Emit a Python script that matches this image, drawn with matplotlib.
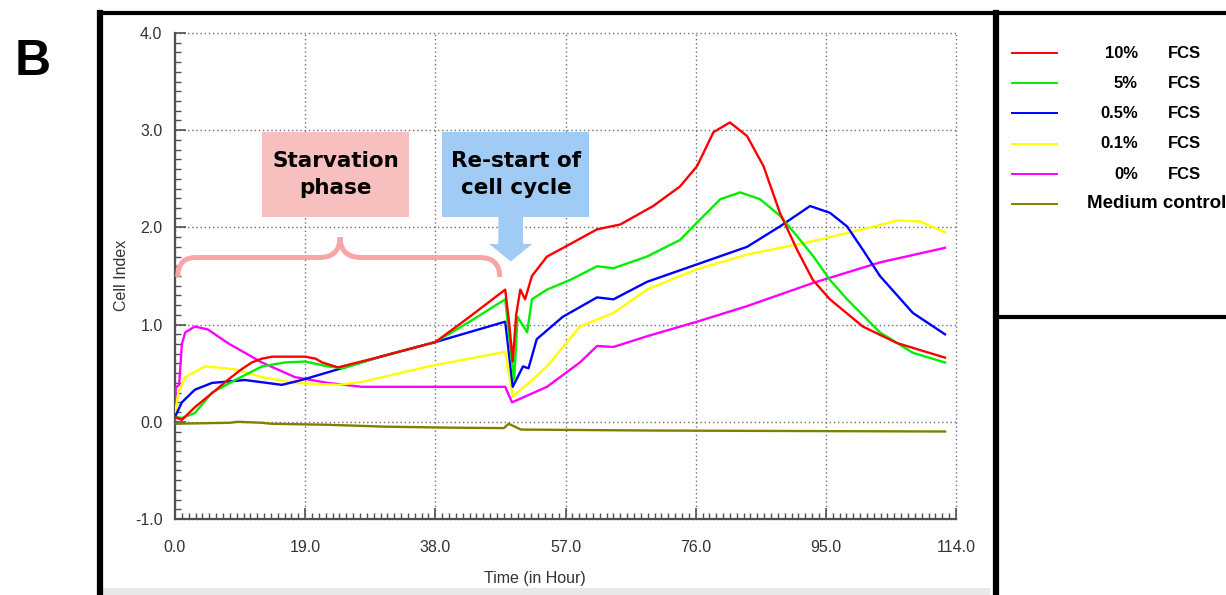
import numpy as np
import matplotlib
matplotlib.use('Agg')
import matplotlib.pyplot as plt
from matplotlib.lines import Line2D
from matplotlib.patches import Rectangle, FancyArrow, PathPatch
from matplotlib.path import Path

# Datos (tiempo en horas, indice celular)
t_10 = [0, 1, 2.9, 5.5, 7.7, 9.5, 11.2, 12.7, 14.2, 19, 20.5, 21.5, 23.8, 30, 38, 43, 48.2,
        48.8, 49.3, 49.8, 50.4, 51.1, 52.1, 54.3, 57.2, 61.6, 65, 69.8, 73.7, 76.2, 78.6, 81,
        83.5, 85.9, 88.3, 90.8, 93.1, 95.6, 100.4, 105.4, 112.4]
ci_10 = [0.05, 0.02, 0.15, 0.30, 0.43, 0.53, 0.61, 0.65, 0.67, 0.67, 0.65, 0.61, 0.56, 0.67,
         0.82, 1.08, 1.36, 1.0, 0.62, 1.1, 1.36, 1.26, 1.50, 1.70, 1.81, 1.98, 2.03, 2.22, 2.42,
         2.63, 2.98, 3.08, 2.94, 2.63, 2.15, 1.77, 1.46, 1.26, 0.98, 0.81, 0.66]

t_5 = [0, 1, 2.9, 5.4, 8.8, 12.7, 16, 19, 22.3, 24.5, 30, 38, 43, 48.2, 48.9, 49.5, 50.0,
       51.4, 52.1, 54.3, 57.7, 61.6, 64, 68.9, 73.7, 76.2, 79.6, 82.5, 85.4, 88.3, 90.8, 93.2,
       95.6, 98.1, 102.9, 107.7, 112.4]
ci_5 = [0.05, 0.04, 0.09, 0.30, 0.43, 0.57, 0.61, 0.62, 0.57, 0.55, 0.67, 0.82, 1.03, 1.26,
        0.8, 0.43, 1.08, 0.92, 1.26, 1.36, 1.46, 1.60, 1.58, 1.70, 1.87, 2.05, 2.29, 2.36, 2.29,
        2.12, 1.91, 1.70, 1.46, 1.26, 0.92, 0.71, 0.61]

t_05 = [0, 1, 2.9, 5.4, 10.2, 15.6, 18.5, 23.8, 30, 38, 48.2, 49.3, 50.8, 51.6, 52.8, 56.6,
        61.6, 64, 68.9, 76.2, 83.5, 88.3, 92.7, 95.6, 98.1, 100.4, 102.9, 107.7, 112.4]
ci_05 = [0.05, 0.2, 0.33, 0.40, 0.43, 0.38, 0.43, 0.54, 0.67, 0.82, 1.03, 0.36, 0.57, 0.55,
         0.85, 1.08, 1.28, 1.26, 1.44, 1.62, 1.80, 2.01, 2.22, 2.15, 2.01, 1.77, 1.50, 1.12, 0.90]

t_01 = [0, 0.5, 1.5, 4.4, 8.8, 12.7, 17.5, 23.8, 27.3, 37, 48.2, 49.3, 52, 54.3, 59.1, 64,
        68.9, 76.2, 83.5, 93.2, 100.4, 105.4, 108.8, 112.4]
ci_01 = [0.08, 0.3, 0.46, 0.57, 0.54, 0.46, 0.40, 0.38, 0.41, 0.57, 0.72, 0.26, 0.42, 0.57,
         0.98, 1.12, 1.36, 1.57, 1.72, 1.86, 1.98, 2.07, 2.06, 1.95]

t_0 = [0, 0.1, 0.6, 1.0, 1.5, 2.9, 4.8, 7.7, 12.7, 17.5, 22.3, 27.3, 48.2, 49.2, 54.3, 59.1,
       61.6, 64, 68.9, 76.2, 83.5, 93.2, 102.9, 112.4]
ci_0 = [0.02, 0.35, 0.38, 0.8, 0.92, 0.98, 0.95, 0.81, 0.61, 0.46, 0.40, 0.36, 0.36, 0.20,
        0.36, 0.61, 0.78, 0.77, 0.88, 1.03, 1.19, 1.43, 1.64, 1.79]

t_med = [0, 8, 9.2, 12.7, 14, 22, 30.7, 40, 48, 48.7, 50.5, 70, 112.4]
ci_med = [-0.02, -0.01, 0.0, -0.01, -0.02, -0.03, -0.05, -0.06, -0.065, -0.02, -0.08, -0.09, -0.10]

etiquetas_pct = ['10%', '5%', '0.5%', '0.1%', '0%']
colores = ['#ff0000', '#00ee00', '#0000ff', '#ffff00', '#ff00ff', '#808000']

xticks = [0, 19, 38, 57, 76, 95, 114]
yticks = [-1, 0, 1, 2, 3, 4]

series = [(t_10, ci_10), (t_5, ci_5), (t_05, ci_05), (t_01, ci_01), (t_0, ci_0), (t_med, ci_med)]

W, H = 1226, 595
fig = plt.figure(figsize=(W / 100, H / 100), dpi=100)

def fx(x):
    return x / W

def fy(y):
    return 1 - y / H

ax = fig.add_axes([fx(175), fy(519), fx(956) - fx(175), fy(33) - fy(519)])

# Orden de dibujo: control primero
for (t, ci), c in reversed(list(zip(series, colores))):
    ax.plot(t, ci, color=c, lw=1.7, zorder=3)

ax.set_xlim(0, 114)
ax.set_ylim(-1, 4)
ax.set_xticks(xticks)
ax.set_xticklabels(['%.1f' % v for v in xticks])
ax.set_yticks(yticks)
ax.set_yticklabels(['%.1f' % v for v in yticks])
ax.set_xticks(np.arange(0, 115, 1), minor=True)
ax.set_yticks(np.arange(-1, 4.01, 0.1), minor=True)
ax.grid(True, which='major', ls=(0, (1, 2)), color='#707070', lw=1.0)
for gl in ax.get_xgridlines() + ax.get_ygridlines():
    gl.set_clip_on(False)
for s in ['top', 'right']:
    ax.spines[s].set_visible(False)
for s in ['left', 'bottom']:
    ax.spines[s].set_color('#505050')
    ax.spines[s].set_linewidth(1.6)
ax.tick_params(which='major', direction='in', length=8, width=1.2, color='#505050',
               labelsize=11.5, labelcolor='#333333')
ax.tick_params(axis='y', which='major', pad=9)
ax.tick_params(axis='x', which='major', pad=15)
ax.tick_params(which='minor', direction='in', length=4, width=1.0, color='#505050')
for lbl in ax.get_xticklabels() + ax.get_yticklabels():
    lbl.set_family('Liberation Sans')

ax.set_xlabel('Time (in Hour)', fontsize=11.5, color='#333333', family='Liberation Sans')
ax.xaxis.set_label_coords(0.461, -0.108)
ax.set_ylabel('Cell Index', fontsize=11.5, color='#333333', family='Liberation Sans')
ax.yaxis.set_label_coords(-0.059, 0.502)

# Recuadros de anotacion
ax.add_patch(Rectangle((12.7, 2.11), 21.5, 0.87, facecolor='#f8bfbf', edgecolor='none', zorder=4))
ax.text(23.45, 2.545, 'Starvation\nphase', ha='center', va='center', fontsize=15.5,
        fontweight='bold', family='DejaVu Sans', linespacing=1.45, zorder=5)
ax.add_patch(Rectangle((39.0, 2.11), 21.4, 0.87, facecolor='#9fcbf5', edgecolor='none', zorder=4))
ax.text(49.8, 2.545, 'Re-start of\ncell cycle', ha='center', va='center', fontsize=15.5,
        fontweight='bold', family='DejaVu Sans', linespacing=1.45, zorder=5)
ax.add_patch(FancyArrow(49.0, 2.12, 0, -0.47, width=3.6, head_width=6.3, head_length=0.18,
                        length_includes_head=True, facecolor='#9fcbf5', edgecolor='none', zorder=4))

# Llave de la fase de ayuno
yb, yh, yp = 1.49, 1.69, 1.90
xm = 24.1
verts = [(0.4, yb), (0.4, yh), (3, yh), (21, yh), (xm, yh), (xm, yp),
         (xm, yh), (27.2, yh), (44.5, yh), (47.4, yh), (47.4, yb)]
codes = [Path.MOVETO, Path.CURVE3, Path.CURVE3, Path.LINETO, Path.CURVE3, Path.CURVE3,
         Path.CURVE3, Path.CURVE3, Path.LINETO, Path.CURVE3, Path.CURVE3]
ax.add_patch(PathPatch(Path(verts, codes), facecolor='none', edgecolor='#f6a6a6', lw=3.6,
                       capstyle='butt', zorder=4))

# Marco exterior y caja de leyenda
def linea(x0, y0, x1, y1, lw, color='black'):
    fig.add_artist(Line2D([fx(x0), fx(x1)], [fy(y0), fy(y1)], color=color, lw=lw,
                          solid_capstyle='projecting'))

linea(100, 13, 100, 600, 4.5)
linea(100, 13, 1230, 13, 3.0)
linea(996, 13, 996, 600, 4.5)
linea(996, 317, 1230, 317, 3.0)
fig.add_artist(Rectangle((fx(103), fy(595)), fx(990) - fx(103), fy(588) - fy(595),
                         facecolor='#e8e8e8', edgecolor='none', transform=fig.transFigure))

fig.text(fx(15), fy(62), 'B', fontsize=36, fontweight='bold', family='Liberation Sans',
         va='center', ha='left')

# Leyenda
ys = [53, 83, 113, 144, 174, 204]
fuente_ley = ['Liberation Sans', 'DejaVu Sans']
for i, c in enumerate(colores):
    linea(1012, ys[i], 1057, ys[i], 1.4, color=c)
    if i < 5:
        fig.text(fx(1138), fy(ys[i]), etiquetas_pct[i], ha='right', va='center', fontsize=12,
                 fontweight='bold', family=fuente_ley)
        fig.text(fx(1168), fy(ys[i]), 'FCS', ha='left', va='center', fontsize=12,
                 fontweight='bold', family=fuente_ley)
    else:
        fig.text(fx(1087), fy(ys[i]), 'Medium control', ha='left', va='center', fontsize=13.5,
                 fontweight='bold', family=fuente_ley)

plt.savefig('out.png', dpi=100)
